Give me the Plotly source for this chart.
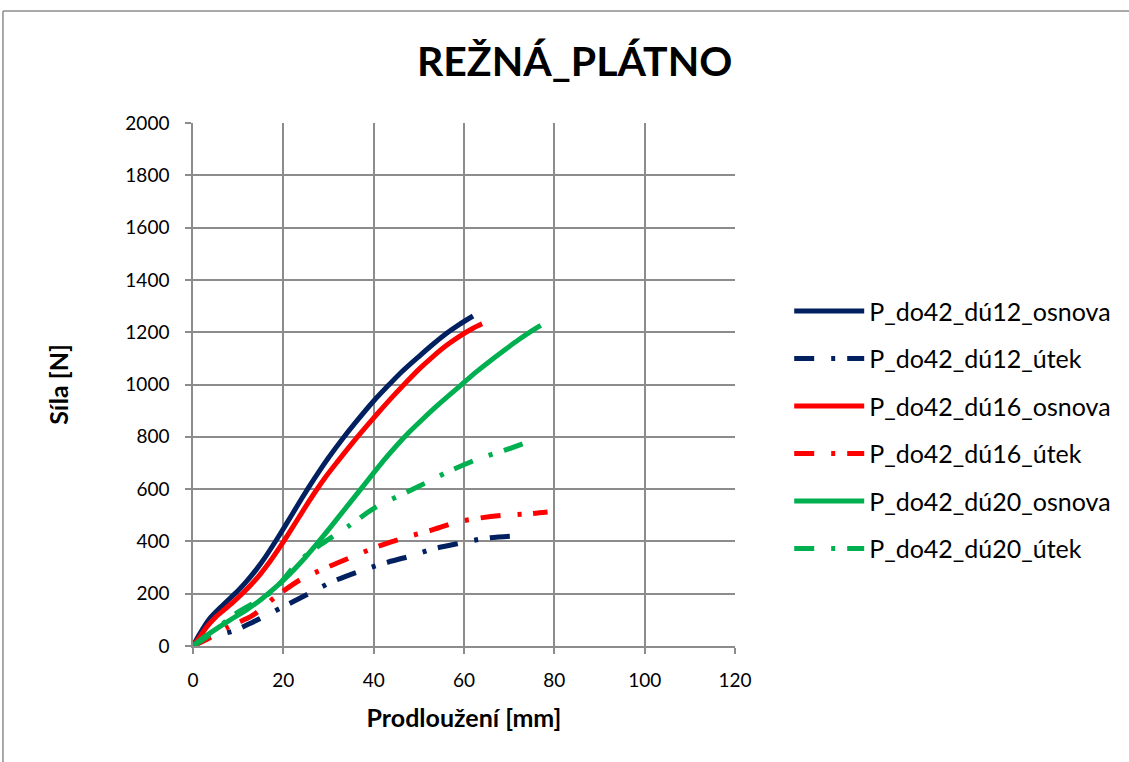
import plotly.graph_objects as go

# ---------------- data ----------------
x_do42_du12_osnova = [0, 1.5, 3.7, 6.7, 10, 12, 14, 16, 18, 20, 22, 24, 26, 28, 30, 33, 36, 40, 43, 46, 50, 53, 56, 59, 62]
y_do42_du12_osnova = [0, 47, 105, 158, 212, 250, 292, 340, 393, 448, 505, 562, 617, 670, 720, 790, 855, 937, 992, 1045, 1107, 1152, 1194, 1230, 1262]

x_do42_du12_utek = [0, 3.5, 9, 13.1, 19.7, 25.6, 30.7, 36.6, 42.1, 47.4, 53.3, 59.3, 64.4, 70.5]
y_do42_du12_utek = [0, 32, 58, 90, 148, 200, 245, 284, 316, 340, 372, 394, 411, 420]

x_do42_du16_osnova = [0, 1.5, 3, 5, 7, 9, 11, 13, 15, 17, 19, 21, 23, 25, 27, 29, 32, 35, 38, 41, 44, 47, 50, 53, 56, 59, 62, 64]
y_do42_du16_osnova = [0, 35, 72, 110, 140, 170, 202, 237, 277, 322, 372, 425, 480, 535, 588, 638, 705, 770, 832, 892, 950, 1005, 1058, 1105, 1148, 1184, 1215, 1232]

x_do42_du16_utek = [0, 3, 7.6, 13.1, 18.2, 23.8, 29.6, 34.4, 41, 47.4, 52.6, 58.5, 63.7, 68.1, 74.8, 78.5]
y_do42_du16_utek = [0, 25, 71, 116, 187, 254, 300, 335, 381, 417, 442, 474, 490, 499, 506, 512]

x_do42_du20_osnova = [0, 2, 4, 6, 9, 12, 15, 18, 21, 24, 27, 30, 33, 36, 39, 42, 45, 48, 51, 54, 57, 60, 63, 66, 69, 72, 75, 77]
y_do42_du20_osnova = [0, 28, 52, 75, 108, 140, 177, 220, 268, 322, 382, 445, 510, 575, 640, 705, 765, 820, 870, 918, 963, 1008, 1052, 1093, 1132, 1170, 1205, 1226]

x_do42_du20_utek = [0, 2.8, 9.4, 13.1, 17.8, 23.4, 28.2, 34.4, 40.3, 47.4, 51.9, 56.3, 62.6, 68.9, 74.1]
y_do42_du20_utek = [0, 32, 123, 161, 213, 323, 387, 458, 529, 589, 627, 665, 712, 748, 780]

names = ["P_do42_dú12_osnova", "P_do42_dú12_útek", "P_do42_dú16_osnova",
         "P_do42_dú16_útek", "P_do42_dú20_osnova", "P_do42_dú20_útek"]

x_ticks = [0, 20, 40, 60, 80, 100, 120]
y_ticks = [0, 200, 400, 600, 800, 1000, 1200, 1400, 1600, 1800, 2000]

title_text = "REŽNÁ_PLÁTNO"
x_title = "Prodloužení [mm]"
y_title = "Síla [N]"

# ---------------- styling ----------------
NAVY = "#002060"
RED = "#FF0000"
GREEN = "#00B050"
GRID = "#8C8C8C"
FONT = "Lato"
DASH = "20px,17px,4px,12px"

series = [
    (x_do42_du12_osnova, y_do42_du12_osnova, NAVY, "solid"),
    (x_do42_du12_utek, y_do42_du12_utek, NAVY, DASH),
    (x_do42_du16_osnova, y_do42_du16_osnova, RED, "solid"),
    (x_do42_du16_utek, y_do42_du16_utek, RED, DASH),
    (x_do42_du20_osnova, y_do42_du20_osnova, GREEN, "solid"),
    (x_do42_du20_utek, y_do42_du20_utek, GREEN, DASH),
]

fig = go.Figure()
for i, ((xs, ys, col, dash), nm) in enumerate(zip(series, names)):
    fig.add_trace(go.Scatter(
        x=xs, y=ys, mode="lines", name=nm, legendgroup=f"g{i}",
        line=dict(color=col, width=5, dash=dash, shape="spline", smoothing=0.8),
    ))

axis_common = dict(
    showgrid=True, gridcolor=GRID, gridwidth=1.5,
    showline=True, linecolor=GRID, linewidth=1.5, mirror=False,
    ticks="outside", ticklen=6, tickcolor=GRID, tickwidth=1.5,
    zeroline=False,
    tickfont=dict(family=FONT, size=19, color="#000000"),
)

fig.update_xaxes(range=[0, 120], tickvals=x_ticks, ticktext=[str(v) for v in x_ticks],
                 title=dict(text=x_title, font=dict(family=FONT, size=25, color="#000000", weight="bold"), standoff=20),
                 ticklabelstandoff=10, **axis_common)
fig.update_yaxes(range=[0, 2000], tickvals=y_ticks, ticktext=[str(v) for v in y_ticks],
                 title=dict(text=y_title, font=dict(family=FONT, size=25, color="#000000", weight="bold"), standoff=50),
                 ticklabelstandoff=12, **axis_common)

fig.update_layout(
    width=1129, height=762,
    margin=dict(l=193, r=394, t=123, b=116),
    paper_bgcolor="white", plot_bgcolor="white",
    title=dict(text=title_text, x=0.509, xref="container", y=0.919, yref="container",
               xanchor="center", yanchor="middle",
               font=dict(family=FONT, size=41, color="#000000", weight="bold")),
    legend=dict(x=1.1, y=0.684, xanchor="left", yanchor="top",
                font=dict(family=FONT, size=25, color="#000000"),
                itemwidth=70, tracegroupgap=12, bgcolor="rgba(0,0,0,0)"),
    showlegend=True,
    shapes=[
        dict(type="line", xref="paper", yref="paper", x0=-0.3506, x1=-0.3506, y0=1.2141, y1=-0.3,
             line=dict(color="#8C8C8C", width=1.5)),
        dict(type="line", xref="paper", yref="paper", x0=-0.3506, x1=1.8, y0=1.2141, y1=1.2141,
             line=dict(color="#8C8C8C", width=1.5)),
    ],
)

fig.write_html("out.html")
